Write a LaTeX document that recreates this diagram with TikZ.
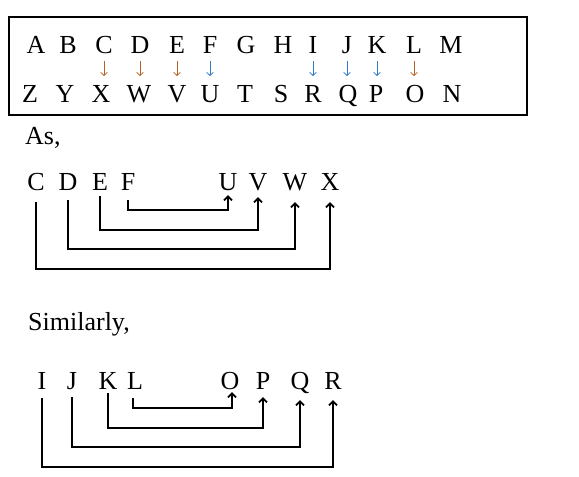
\documentclass[tikz,border=0pt]{standalone}
\usepackage{fontspec}
\setmainfont{Liberation Serif}
\usetikzlibrary{arrows.meta}
\definecolor{arrO}{RGB}{185,95,40}
\definecolor{arrB}{RGB}{50,120,200}
\begin{document}
\begin{tikzpicture}[x=1pt,y=-1pt,
  lt/.style={inner sep=0pt,anchor=base,font=\fontsize{26}{30}\selectfont},
  txt/.style={inner sep=0pt,anchor=base west,font=\fontsize{26}{30}\selectfont},
  small/.style={line width=0.8pt,-{Straight Barb[length=3pt,width=6.5pt]}},
  conn/.style={line width=2.6pt,-{Straight Barb[length=4pt,width=8pt,line width=1.9pt]}}]
\useasboundingbox (0,0) rectangle (579,477);
\draw[line width=2.4pt] (9,17) rectangle (527,115);
% top row
\foreach \l/\x in {A/36,B/68,C/104,D/140,E/177,F/210,G/246,H/283,I/313,J/347,K/377,L/414,M/451}
  \node[lt] (t\l) at (\x,53) {\l};
\foreach \l/\x in {Z/30,Y/65,X/101,W/139,V/177,U/210,T/245,S/281,R/313,Q/348,P/376,O/415,N/452}
  \node[lt] (b\l) at (\x,102) {\l};
\foreach \a/\b/\c in {C/X/arrO,D/W/arrO,E/V/arrO,F/U/arrB,I/R/arrB,J/Q/arrB,K/P/arrB,L/O/arrO}
  \draw[small,\c] (t\a.south |- 0,61) -- (t\a.south |- 0,76);
% As
\node[txt] (as) at (25,144) {As,};
\foreach \l/\x in {C/36,D/68,E/100,F/128,U/228,V/258,W/295,X/330}
  \node[lt] (a\l) at (\x,190) {\l};
\draw[conn] (aF.south |- 0,200) -- (aF.south |- 0,210) -| (aU.south |- 0,195);
\draw[conn] (aE.south |- 0,196) -- (aE.south |- 0,230) -| (aV.south |- 0,197);
\draw[conn] (aD.south |- 0,200) -- (aD.south |- 0,249) -| (aW.south |- 0,202);
\draw[conn] (aC.south |- 0,202) -- (aC.south |- 0,269) -| (aX.south |- 0,202);
% Similarly
\node[txt] (sim) at (28,330) {Similarly,};
\foreach \l/\x in {I/42,J/72,K/108,L/135,O/230,P/263,Q/300,R/333}
  \node[lt] (s\l) at (\x,389) {\l};
\draw[conn] ([xshift=-2pt]sL.south |- 0,398) -- ([xshift=-2pt]sL.south |- 0,408) -| ([xshift=2pt]sO.south |- 0,392);
\draw[conn] (sK.south |- 0,393) -- (sK.south |- 0,428) -| (sP.south |- 0,397);
\draw[conn] (sJ.south |- 0,397) -- (sJ.south |- 0,447) -| (sQ.south |- 0,400);
\draw[conn] (sI.south |- 0,398) -- (sI.south |- 0,467) -| (sR.south |- 0,400);
\end{tikzpicture}
\end{document}
